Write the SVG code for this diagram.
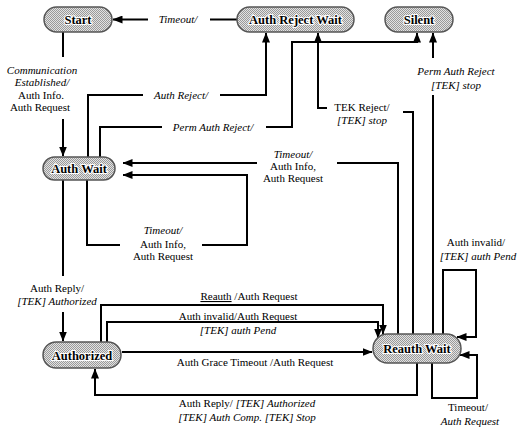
<svg xmlns="http://www.w3.org/2000/svg" width="518" height="431" viewBox="0 0 518 431">
<style>
.node rect{fill:url(#hatch);stroke:#555;stroke-width:1.5}
.node text{font-family:"Liberation Serif",serif;font-weight:bold;font-size:12.5px;text-anchor:middle;fill:#000;stroke:#fff;stroke-width:2.2;paint-order:stroke}
.conn path{fill:none;stroke:#000;stroke-width:2;marker-end:url(#arr)}
.lbl{font-family:"Liberation Serif",serif;font-size:11px;text-anchor:middle;fill:#000}
.it{font-style:italic}
</style>
<defs>
<pattern id="hatch" width="2" height="2" patternUnits="userSpaceOnUse">
<rect width="2" height="2" fill="#e2e2e2"/>
<rect width="1" height="1" fill="#9a9a9a"/>
<rect x="1" y="1" width="1" height="1" fill="#9a9a9a"/>
</pattern>
<marker id="arr" markerWidth="10" markerHeight="8" refX="9.5" refY="4" orient="auto" markerUnits="userSpaceOnUse">
<path d="M0,0 L10,4 L0,8 z" fill="#000"/>
</marker>
</defs>
<rect width="518" height="431" fill="#fff"/>

<g id="connectors" class="conn">
<path d="M237,19.5 H210 M148,19.5 H113"/>
<path d="M63,32 V57 M63,119 V156"/>
<path d="M88,157 V95 H143 M220,95 H266 V33"/>
<path d="M100,157 V127 H162 M266,127 H292 V42 H417 V33"/>
<path d="M413,334 V112 H403 M327,108 H318 V33"/>
<path d="M433,334 V95 M433,58 V33"/>
<path d="M398,334 V163 H337 M257,163 H123"/>
<path d="M87,180 V245 H120 M202,245 H247 V175 H123"/>
<path d="M63,180 V276 M63,312 V341"/>
<path d="M101,342 V305 H383 V334"/>
<path d="M107,342 V322 H378 V338"/>
<path d="M122,352 H372"/>
<path d="M417,363 V395 H95 V369"/>
<path d="M443,334 V270 H476 V337 H457"/>
<path d="M432,363 V398 H477 V355 H460"/>
</g>

<g id="labels">
<text class="lbl it" x="178" y="23">Timeout/</text>
<text class="lbl it" x="42" y="74">Communication</text>
<text class="lbl it" x="42" y="86">Established/</text>
<text class="lbl" x="41" y="99">Auth Info.</text>
<text class="lbl" x="40" y="111">Auth Request</text>
<text class="lbl it" x="181" y="98.5">Auth Reject/</text>
<text class="lbl it" x="213" y="130.5">Perm Auth Reject/</text>
<text class="lbl" x="362" y="111">TEK Reject/</text>
<text class="lbl it" x="362" y="124">[TEK] stop</text>
<text class="lbl it" x="456" y="75">Perm Auth Reject</text>
<text class="lbl it" x="456" y="89">[TEK] stop</text>
<text class="lbl it" x="293" y="158">Timeout/</text>
<text class="lbl" x="293" y="170">Auth Info,</text>
<text class="lbl" x="293" y="182">Auth Request</text>
<text class="lbl it" x="163" y="234">Timeout/</text>
<text class="lbl" x="163" y="248">Auth Info,</text>
<text class="lbl" x="163" y="260">Auth Request</text>
<text class="lbl" x="476" y="246">Auth invalid/</text>
<text class="lbl it" x="478" y="260">[TEK] auth Pend</text>
<text class="lbl" x="57" y="292">Auth Reply/</text>
<text class="lbl it" x="57" y="305">[TEK] Authorized</text>
<text class="lbl" x="249" y="300"><tspan text-decoration="underline">Reauth</tspan> /Auth Request</text>
<text class="lbl" x="238" y="320">Auth invalid/Auth Request</text>
<text class="lbl it" x="238" y="334">[TEK] auth Pend</text>
<text class="lbl" x="255" y="366">Auth Grace  Timeout  /Auth Request</text>
<text class="lbl" x="247" y="407">Auth Reply/ <tspan class="it">[TEK] Authorized</tspan></text>
<text class="lbl it" x="247" y="421">[TEK] Auth Comp. [TEK] Stop</text>
<text class="lbl" x="468" y="411">Timeout/</text>
<text class="lbl it" x="470" y="425">Auth Request</text>
</g>

<g id="node-start" class="node"><rect x="44" y="7" width="68" height="25" rx="12.5"/><text x="78" y="24">Start</text></g>
<g id="node-auth-reject-wait" class="node"><rect x="237" y="7" width="117" height="25" rx="12.5"/><text x="295.5" y="24">Auth Reject Wait</text></g>
<g id="node-silent" class="node"><rect x="385" y="7" width="68" height="25" rx="12.5"/><text x="419" y="24">Silent</text></g>
<g id="node-auth-wait" class="node"><rect x="43" y="157" width="72" height="23" rx="11.5"/><text x="79" y="173">Auth Wait</text></g>
<g id="node-authorized" class="node"><rect x="43" y="342" width="78" height="26" rx="13"/><text x="82" y="359.5">Authorized</text></g>
<g id="node-reauth-wait" class="node"><rect x="373" y="334" width="88" height="29" rx="14.5"/><text x="417" y="353">Reauth Wait</text></g>
</svg>
